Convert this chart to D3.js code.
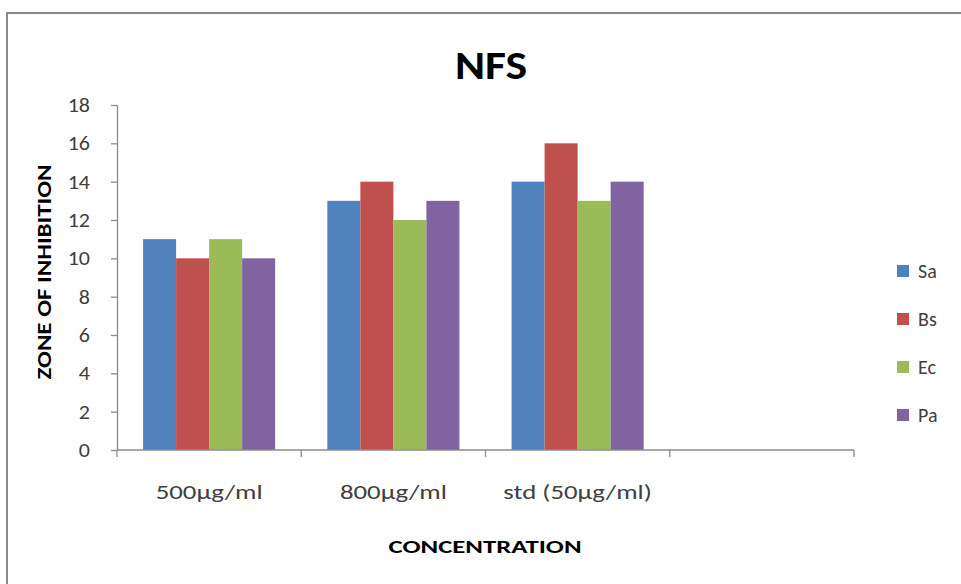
<!DOCTYPE html>
<html>
<head>
<meta charset="utf-8">
<script src="https://cdn.jsdelivr.net/npm/d3@7"></script>
<style>
  html, body { margin: 0; padding: 0; background: #fff; }
  svg { display: block; }
</style>
</head>
<body>
<svg id="chart" width="961" height="584"></svg>
<script>
// Concentration groups (the fourth slot of the category axis is left empty)
const categories = ["500µg/ml", "800µg/ml", "std (50µg/ml)", ""];
const seriesNames = ["Sa", "Bs", "Ec", "Pa"];
const seriesColors = ["#4F81BD", "#C0504D", "#9BBB59", "#8064A2"];
const Sa = [11, 13, 14];
const Bs = [10, 14, 16];
const Ec = [11, 12, 13];
const Pa = [10, 13, 14];
const yTicks = [0, 2, 4, 6, 8, 10, 12, 14, 16, 18];

const seriesValues = [Sa, Bs, Ec, Pa];
const font = "Carlito, Lato, 'Open Sans', sans-serif";

const svg = d3.select("#chart");

// outer frame
svg.append("path")
  .attr("d", "M7,584 V13 H961")
  .attr("fill", "none")
  .attr("stroke", "#8a8a8a")
  .attr("stroke-width", 2);

const plot = { left: 117, right: 854, top: 105, bottom: 450 };

const x = d3.scaleBand()
  .domain(categories.map((c, i) => i))
  .range([plot.left, plot.right])
  .paddingInner(0)
  .paddingOuter(0);

const xInner = d3.scaleBand()
  .domain(seriesNames)
  .range([0, x.bandwidth()])
  .paddingOuter(0.79)
  .paddingInner(0);

const y = d3.scaleLinear().domain([0, 18]).range([plot.bottom, plot.top]);

// bars
const groups = svg.append("g").selectAll("g")
  .data(categories.slice(0, 3))
  .join("g")
  .attr("transform", (d, i) => `translate(${x(i)},0)`);

groups.selectAll("rect")
  .data((d, i) => seriesNames.map((s, k) => ({ s, k, v: seriesValues[k][i] })))
  .join("rect")
  .attr("x", d => xInner(d.s))
  .attr("width", xInner.bandwidth())
  .attr("y", d => y(d.v))
  .attr("height", d => y(0) - y(d.v))
  .attr("fill", d => seriesColors[d.k]);

// y axis
const yAxis = svg.append("g")
  .attr("transform", `translate(${plot.left},0)`)
  .call(d3.axisLeft(y).tickValues(yTicks).tickSize(6).tickPadding(0).tickSizeOuter(0));
yAxis.select(".domain").attr("stroke", "#8c8c8c").attr("stroke-width", 1.3);
yAxis.selectAll(".tick line").attr("stroke", "#8c8c8c").attr("stroke-width", 1.3);
yAxis.selectAll(".tick text")
  .attr("x", null)
  .attr("transform", "translate(-27,0) scale(1.1,1)")
  .attr("font-family", font).attr("font-size", 20).attr("fill", "#404040");

// x axis with tick marks at band boundaries
const xAxis = svg.append("g")
  .attr("transform", `translate(0,${plot.bottom})`);
xAxis.append("line")
  .attr("x1", plot.left).attr("x2", plot.right)
  .attr("stroke", "#8c8c8c").attr("stroke-width", 1.3);
const bounds = categories.map((c, i) => x(i)).concat([x(categories.length - 1) + x.bandwidth()]);
xAxis.selectAll("line.tk").data(bounds).join("line")
  .attr("class", "tk")
  .attr("x1", d => d).attr("x2", d => d)
  .attr("y1", 0).attr("y2", 7)
  .attr("stroke", "#8c8c8c").attr("stroke-width", 1.3);
xAxis.selectAll("text").data(categories).join("text")
  .attr("transform", (d, i) => `translate(${x(i) + x.bandwidth() / 2},49) scale(1.34,1)`)
  .attr("text-anchor", "middle")
  .attr("font-family", font).attr("font-size", 20).attr("fill", "#404040")
  .text(d => d);

// title
svg.append("text")
  .attr("x", 491).attr("y", 79)
  .attr("text-anchor", "middle")
  .attr("textLength", 72).attr("lengthAdjust", "spacingAndGlyphs")
  .attr("font-family", font).attr("font-weight", "bold").attr("font-size", 41)
  .attr("fill", "#000")
  .text("NFS");

// axis titles
svg.append("text")
  .attr("transform", "translate(51,272) rotate(-90)")
  .attr("text-anchor", "middle")
  .attr("textLength", 215).attr("lengthAdjust", "spacingAndGlyphs")
  .attr("font-family", font).attr("font-weight", "bold").attr("font-size", 20)
  .attr("fill", "#000")
  .text("ZONE OF INHIBITION");

svg.append("text")
  .attr("x", 485).attr("y", 553)
  .attr("text-anchor", "middle")
  .attr("textLength", 193).attr("lengthAdjust", "spacingAndGlyphs")
  .attr("font-family", font).attr("font-weight", "bold").attr("font-size", 19)
  .attr("fill", "#000")
  .text("CONCENTRATION");

// legend
const legend = svg.append("g").selectAll("g")
  .data(seriesNames)
  .join("g")
  .attr("transform", (d, i) => `translate(897,${271 + i * 48})`);
legend.append("rect")
  .attr("x", 0).attr("y", -6).attr("width", 12).attr("height", 12)
  .attr("fill", (d, i) => seriesColors[i]);
legend.append("text")
  .attr("x", 21).attr("y", 7)
  .attr("font-family", font).attr("font-size", 20).attr("fill", "#404040")
  .text(d => d);
</script>
</body>
</html>
